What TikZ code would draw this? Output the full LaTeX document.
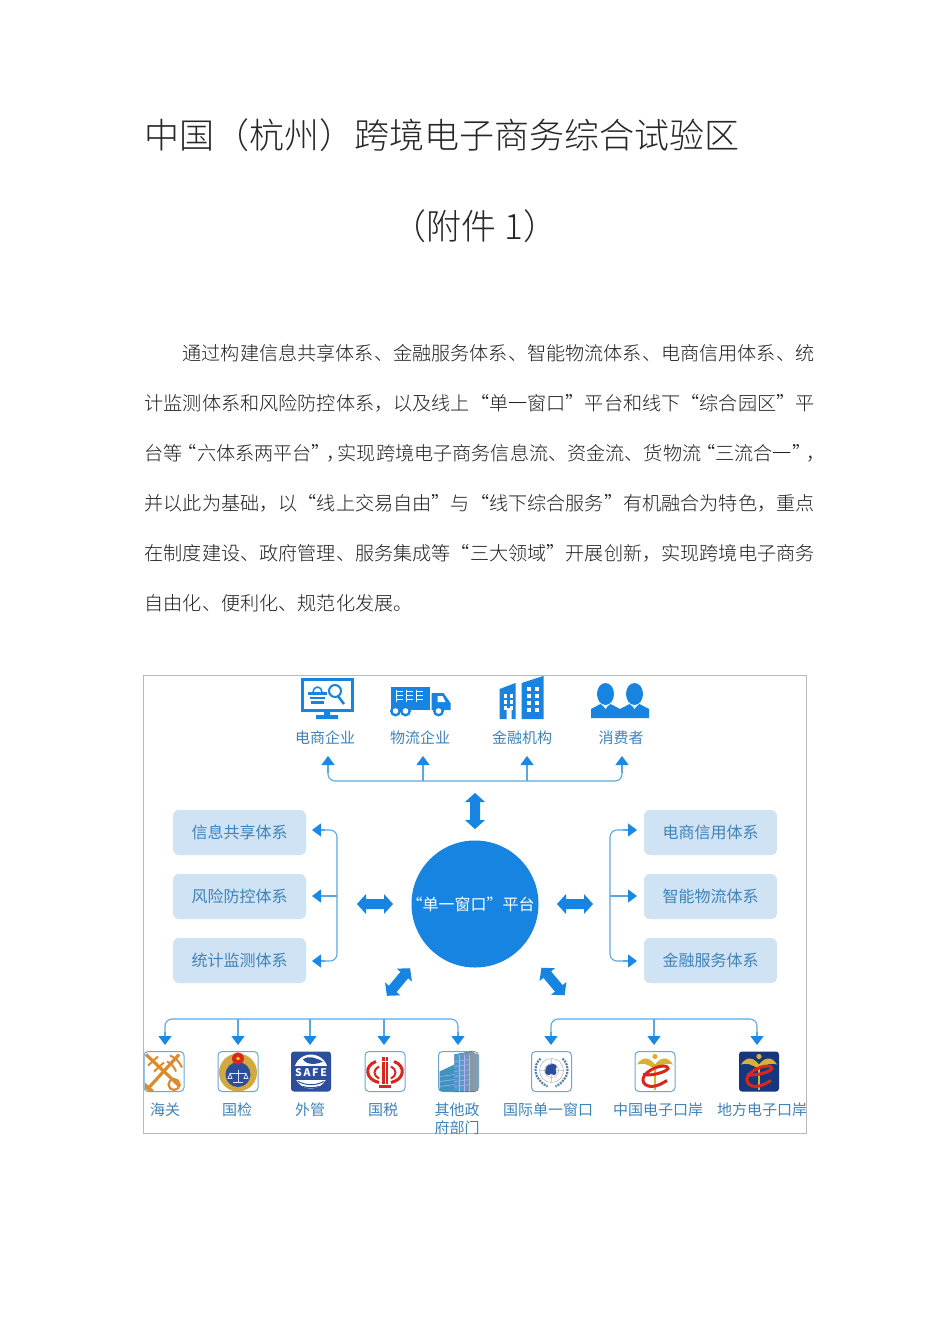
\documentclass[tikz,border=0pt]{standalone}
\usepackage{fontspec}
\usepackage{xcolor}
\setmainfont{Noto Sans CJK SC}[UprightFont={* Light}]
\newfontfamily\cjkreg{Noto Sans CJK SC}
\usetikzlibrary{arrows.meta,calc}
\definecolor{mainblue}{HTML}{1684E0}
\definecolor{linkblue}{HTML}{5AA8E2}
\definecolor{tipblue}{HTML}{1B88E3}
\definecolor{boxblue}{HTML}{CFE3F5}
\definecolor{labelblue}{HTML}{3F83B8}
\definecolor{frameblue}{HTML}{6FA5D2}
\definecolor{orangeg}{HTML}{DB8A2E}
\definecolor{goldg}{HTML}{D2A93C}
\definecolor{navyg}{HTML}{2C4F9C}
\definecolor{redg}{HTML}{D9271F}
\definecolor{darknavy}{HTML}{14377F}
\tikzset{
  x=1pt,y=-1pt,
  titletext/.style={anchor=center,inner sep=0,font=\fontsize{35}{35}\selectfont,text=black!85},
  bodyline/.style={anchor=west,inner sep=0,font=\fontsize{19.14}{19.14}\selectfont,text=black!88},
  pagelabel/.style={anchor=center,inner sep=0,font=\cjkreg\fontsize{15}{18}\selectfont,text=labelblue,align=center},
  sysbox/.style={rounded corners=6pt,fill=boxblue,draw=none,minimum width=133pt,minimum height=45pt,inner sep=0,
    font=\cjkreg\fontsize{16}{16}\selectfont,text=labelblue},
  hub/.style={circle,fill=mainblue,minimum size=127pt,inner sep=0,text=white,font=\cjkreg\fontsize{16}{16}\selectfont},
  link/.style={draw=linkblue,line width=1.1pt,rounded corners=7pt},
  linkto/.style={draw=linkblue,line width=1.1pt,-{Triangle[width=13pt,length=9pt,color=tipblue]}},
  dbl/.pic={\fill[mainblue] (-18,0)--(-9,-10)--(-9,-5)--(9,-5)--(9,-10)--(18,0)--(9,10)--(9,5)--(-9,5)--(-9,10)--cycle;},
  iconframe/.style={draw=frameblue,line width=1pt,rounded corners=4pt},
  monitorpic/.pic={
    \draw[mainblue,line width=3pt] (-25,-19) rectangle (25,12);
    \fill[mainblue] (-3,13)--(3,13)--(3,17)--(11,17)--(11,21)--(-11,21)--(-11,17)--(-3,17)--cycle;
    \fill[mainblue] (-19,-6) rectangle (0,-3);
    \fill[mainblue] (-17,-1) rectangle (-2,1);
    \fill[mainblue] (-16,3) rectangle (-3,6);
    \draw[mainblue,line width=1.5pt] (-14,-6) arc[start angle=180,end angle=0,x radius=4.5,y radius=-5];
    \draw[mainblue,line width=2pt] (8,-7) circle[radius=6];
    \draw[mainblue,line width=2.5pt] (11,-2)--(17,6);
  },
  truckpic/.pic={
    \fill[mainblue] (-30,-13) rectangle (9,10);
    \foreach \c in {-24,-14,-4}{\draw[white,line width=.9pt] (\c,-10)--(\c,2);
      \foreach \d in {-9,-5,-1}{\draw[white,line width=.9pt] (\c,\d)--(\c+6,\d);}}
    \fill[mainblue] (11,-7)--(23,-7)--(30,3)--(30,10)--(11,10)--cycle;
    \fill[white] (17,-4)--(22,-4)--(25,2)--(17,2)--cycle;
    \foreach \c in {-25,-15,18}{\fill[mainblue] (\c,11) circle[radius=5.5];\fill[white] (\c,11) circle[radius=2.8];}
  },
  buildingpic/.pic={
    \fill[mainblue] (-22,-9)--(-6,-15)--(-6,21)--(-10,21)--(-10,10)--(-15,10)--(-15,21)--(-22,21)--cycle;
    \fill[mainblue] (0,-15)--(22,-22)--(22,21)--(0,21)--cycle;
    \foreach \a in {-18,-12}{\foreach \b in {-4,2,8}{\fill[white] (\a,\b) rectangle (\a+3.5,\b+3.5);}}
    \foreach \a in {5,13}{\foreach \b in {-11,-4,3,10}{\fill[white] (\a,\b) rectangle (\a+4,\b+4);}}
  },
  peoplepic/.pic={
    \foreach \c in {-14.5,14.5}{
      \fill[mainblue] (\c,-6) ellipse[x radius=8.5,y radius=11];
      \fill[mainblue] (\c-14.5,18)--(\c-14.5,9)--(\c-5,4)--(\c,8)--(\c+5,4)--(\c+14.5,9)--(\c+14.5,18)--cycle;
    }
    \foreach \c in {-14.5,14.5}{\fill[white] (\c-2,6)--(\c,9)--(\c+2,6)--cycle;}
  },
  customspic/.pic={
    \draw[iconframe] (-20,-20) rectangle (20,20);
    \draw[orangeg,line width=3.2pt] (-18,-17)--(16,15);
    \draw[orangeg,line width=3.2pt] (15,-17)--(-15,16);
    \draw[orangeg,line width=2.2pt] (10,13) circle[radius=5.5];
    \draw[orangeg,line width=2pt] (-16,-6)--(-6,-15) (-10,0)--(0,-9);
    \draw[orangeg,line width=2pt] (6,-16) to[bend left=20] (18,-4);
    \draw[orangeg,line width=2pt] (3,-10) to[bend left=20] (12,0);
    \fill[orangeg] (-19,11)--(-10,19)--(-15,20)--(-19,17)--cycle;
  },
  inspectpic/.pic={
    \draw[iconframe] (-20,-20) rectangle (20,20);
    \fill[goldg] (0,1) circle[radius=19];
    \fill[navyg] (0,3) circle[radius=12.5];
    \fill[redg] (0,-13) circle[radius=6];
    \fill[yellow!80!orange] (0,-13) circle[radius=1.8];
    \draw[white!85!navyg,line width=1pt] (-8,2)--(8,2) (0,-2)--(0,11) (-5,11)--(5,11);
    \draw[white!85!navyg,line width=.8pt] (-8,2)--(-10,7)--(-6,7)--cycle (8,2)--(6,7)--(10,7)--cycle;
  },
  safepic/.pic={
    \fill[navyg,rounded corners=3pt] (-20,-20) rectangle (20,20);
    \fill[white] (0,0) circle[radius=17];
    \fill[navyg] (-8,-12) .. controls (-2,-17) and (6,-13) .. (12,-10) .. controls (6,-7) and (-4,-6) .. (-8,-12);
    \fill[navyg] (-20,-6) rectangle (20,8);
    \node[inner sep=0,text=white,font=\cjkreg\bfseries\fontsize{10.5}{10.5}\selectfont] (safeword) at (0,1) {S\,A\,F\,E};
    \draw[navyg,line width=1pt] (-13,10) to[bend right=25] (13,10);
    \draw[navyg,line width=1pt] (-8,15) to[bend right=15] (8,15);
  },
  taxpic/.pic={
    \draw[iconframe] (-20,-20) rectangle (20,20);
    \draw[redg,line width=3pt] (-9,-10) .. controls (-21,-6) and (-20,8) .. (-6,11);
    \draw[redg,line width=3pt] (9,-10) .. controls (21,-6) and (20,8) .. (6,11);
    \draw[redg,line width=2pt] (-6,-5) .. controls (-12,-2) and (-12,4) .. (-6,7);
    \draw[redg,line width=2pt] (6,-5) .. controls (12,-2) and (12,4) .. (6,7);
    \fill[redg] (-3,-15) rectangle (3,12);
    \draw[white,line width=.8pt] (-3,-10)--(3,-10) (0,-15)--(0,12);
    \fill[redg] (-6,13) rectangle (6,16);
  },
  govpic/.pic={
    \draw[iconframe] (-20,-20) rectangle (20,20);
    \begin{scope}
      \clip[rounded corners=4pt] (-20,-20) rectangle (20,20);
      \fill[left color=blue!40!cyan!60!gray!90,right color=gray!80] (-4,-17) -- (13,-20)--(20,-16)--(20,20)--(-4,20)--cycle;
      \fill[blue!35!cyan!50!gray] (-19,0)--(-4,-7)--(-4,20)--(-19,20)--cycle;
      \foreach \d in {-10,-5,0,5,10,15}{\draw[white!70!blue,line width=.5pt] (-4,\d)--(12,\d-2);}
      \foreach \d in {5,10,15}{\draw[white!70!blue,line width=.5pt] (-19,\d)--(-4,\d-2);}
      \foreach \a in {1,6,11}{\draw[white!70!blue,line width=.5pt] (\a,-17)--(\a,20);}
    \end{scope}
  },
  unpic/.pic={
    \draw[iconframe] (-20,-20) rectangle (20,20);
    \draw[frameblue!80!black,line width=2.2pt,dash pattern=on 2pt off 1pt] (-11,-13) .. controls (-19,-6) and (-18,8) .. (-4,15);
    \draw[frameblue!80!black,line width=2.2pt,dash pattern=on 2pt off 1pt] (11,-13) .. controls (19,-6) and (18,8) .. (4,15);
    \draw[gray!60,line width=.5pt] (0,-1) circle[radius=12] (0,-1) circle[radius=7] (-12,-1)--(12,-1) (0,-13)--(0,11);
    \fill[navyg] (-2,-7) .. controls (4,-9) and (7,-5) .. (4,-2) .. controls (7,2) and (2,6) .. (0,2) .. controls (-3,6) and (-8,2) .. (-6,-2) .. controls (-6,-5) and (-4,-6) .. (-2,-7);
  },
  eportmark/.pic={
    \fill[goldg!90!yellow] (0,-7) .. controls (-6,-15) and (-13,-15) .. (-18,-7) .. controls (-12,-9) and (-7,-7) .. (-1,-3)--(1,-3) .. controls (7,-7) and (12,-9) .. (18,-7) .. controls (13,-15) and (6,-15) .. (0,-7);
    \fill[goldg!90!yellow] (0,-15) circle[radius=2.6];
    \draw[goldg!90!yellow,line width=1.6pt] (0,-5)--(0,18);
    \draw[redg,line width=3pt] (-12,3) .. controls (-3,5) and (12,0) .. (13,-3) .. controls (14,-6) and (4,-7) .. (-5,-1) .. controls (-15,5) and (-14,14) .. (-4,15) .. controls (2,15) and (7,12) .. (12,9);
  },
  eportpic/.pic={
    \draw[iconframe] (-20,-20) rectangle (20,20);
    \pic {eportmark};
  },
  localpic/.pic={
    \fill[darknavy,rounded corners=3pt] (-20,-20) rectangle (20,20);
    \pic {eportmark};
  },
}
\newcommand{\oqt}{\kern-5pt“}
\newcommand{\cqt}{”\kern-5pt}
\newcommand{\cmt}{，\kern-7.5pt}
\begin{document}
\begin{tikzpicture}
\useasboundingbox (0,0) rectangle (950,1344);
\fill[white] (0,0) rectangle (950,1344);

% heading
\node[titletext,anchor=west] (title) at (144,135) {中国（杭州）跨境电子商务综合试验区};
\node[titletext] (subtitle) at (475,226) {（附件 1）};

% paragraph
\node[bodyline] (p1) at (182.5,353) {通过构建信息共享体系、金融服务体系、智能物流体系、电商信用体系、统};
\node[bodyline] (p2) at (144.5,403) {计监测体系和风险防控体系，以及线上“单一窗口”平台和线下“综合园区”平};
\node[bodyline] (p3) at (144.5,453) {台等\oqt 六体系两平台\cqt\cmt 实现跨境电子商务信息流、资金流、货物流\oqt 三流合一\cqt\cmt};
\node[bodyline] (p4) at (144.5,503) {并以此为基础，以“线上交易自由”与“线下综合服务”有机融合为特色，重点};
\node[bodyline] (p5) at (144.5,553) {在制度建设、政府管理、服务集成等“三大领域”开展创新，实现跨境电子商务};
\node[bodyline] (p6) at (144.5,603) {自由化、便利化、规范化发展。};

% diagram frame
\draw[gray!55,line width=.8pt] (143.5,675.5) rectangle (806.5,1133);

% hub
\node[hub] (center) at (475,904) {\kern-9pt“单一窗口”平台};

% block double arrows around the hub
\pic at (475,811) [rotate=90] {dbl};
\pic at (375,904) {dbl};
\pic at (575,904) {dbl};
\pic at (398.5,982) [rotate=50] {dbl};
\pic at (553,981.5) [rotate=-50] {dbl};

% top row
\pic at (327,698) {monitorpic};
\pic at (420.5,700) {truckpic};
\pic at (521.5,698) {buildingpic};
\pic at (620,700) {peoplepic};
\node[pagelabel] (ecom) at (325,737.5) {电商企业};
\node[pagelabel] (logi) at (420,737.5) {物流企业};
\node[pagelabel] (fin) at (522,737.5) {金融机构};
\node[pagelabel] (cons) at (621,737.5) {消费者};
\coordinate (t1) at (328,756);
\coordinate (t2) at (423,756);
\coordinate (t3) at (527,756);
\coordinate (t4) at (622,756);
\coordinate (tbus) at (475,781);
\draw[link] (t1 |- 0,770) |- (tbus) -| (t4 |- 0,770);
\draw[linkto] (t1 |- tbus) ++(0,-8) -- (t1);
\draw[linkto] (t2 |- tbus) -- (t2);
\draw[linkto] (t3 |- tbus) -- (t3);
\draw[linkto] (t4 |- tbus) ++(0,-8) -- (t4);

% left systems
\node[sysbox] (info) at (239.5,832.5) {信息共享体系};
\node[sysbox] (risk) at (239.5,896.5) {风险防控体系};
\node[sysbox] (stat) at (239.5,960.5) {统计监测体系};
\coordinate (lbus) at (337,896);
\coordinate (l1) at (312,830);
\coordinate (l2) at (312,896);
\coordinate (l3) at (312,961);
\draw[link] (325,830) -| (lbus) |- (325,961);
\draw[linkto] (325,830) -- (l1);
\draw[linkto] (lbus) -- (l2);
\draw[linkto] (325,961) -- (l3);

% right systems
\node[sysbox] (credit) at (710.5,832.5) {电商信用体系};
\node[sysbox] (smart) at (710.5,896.5) {智能物流体系};
\node[sysbox] (money) at (710.5,960.5) {金融服务体系};
\coordinate (rbus) at (610,896);
\coordinate (r1) at (637,830);
\coordinate (r2) at (637,896);
\coordinate (r3) at (637,961);
\draw[link] (623,830) -| (rbus) |- (623,961);
\draw[linkto] (623,830) -- (r1);
\draw[linkto] (rbus) -- (r2);
\draw[linkto] (623,961) -- (r3);

% bottom left group
\coordinate (b1) at (165,1045);
\coordinate (b2) at (238,1045);
\coordinate (b3) at (310,1045);
\coordinate (b4) at (384,1045);
\coordinate (b5) at (458,1045);
\coordinate (bbus) at (310,1019);
\draw[link] (b1 |- 0,1032) |- (bbus) -| (b5 |- 0,1032);
\draw[linkto] (b1 |- bbus) ++(0,13) -- (b1);
\draw[linkto] (b2 |- bbus) -- (b2);
\draw[linkto] (b3 |- bbus) -- (b3);
\draw[linkto] (b4 |- bbus) -- (b4);
\draw[linkto] (b5 |- bbus) ++(0,13) -- (b5);

% bottom right group
\coordinate (c1) at (551,1045);
\coordinate (c2) at (654,1045);
\coordinate (c3) at (757,1045);
\coordinate (cbus) at (654,1019);
\draw[link] (c1 |- 0,1032) |- (cbus) -| (c3 |- 0,1032);
\draw[linkto] (c1 |- cbus) ++(0,13) -- (c1);
\draw[linkto] (c2 |- cbus) -- (c2);
\draw[linkto] (c3 |- cbus) ++(0,13) -- (c3);

% bottom icons
\pic at (164,1071.5) {customspic};
\pic at (238,1071.5) {inspectpic};
\pic at (311,1071.5) {safepic};
\pic at (385,1071.5) {taxpic};
\pic at (458.5,1071.5) {govpic};
\pic at (551.5,1071.5) {unpic};
\pic at (655,1071.5) {eportpic};
\pic at (759,1071.5) {localpic};

% bottom labels
\node[pagelabel] (l-hg) at (165,1109.5) {海关};
\node[pagelabel] (l-gj) at (237,1109.5) {国检};
\node[pagelabel] (l-wg) at (310,1109.5) {外管};
\node[pagelabel] (l-gs) at (383,1109.5) {国税};
\node[pagelabel] (l-qt) at (457,1118.5) {其他政\\府部门};
\node[pagelabel] (l-un) at (548,1109.5) {国际单一窗口};
\node[pagelabel] (l-cn) at (658,1109.5) {中国电子口岸};
\node[pagelabel] (l-df) at (762,1109.5) {地方电子口岸};
\end{tikzpicture}
\end{document}
